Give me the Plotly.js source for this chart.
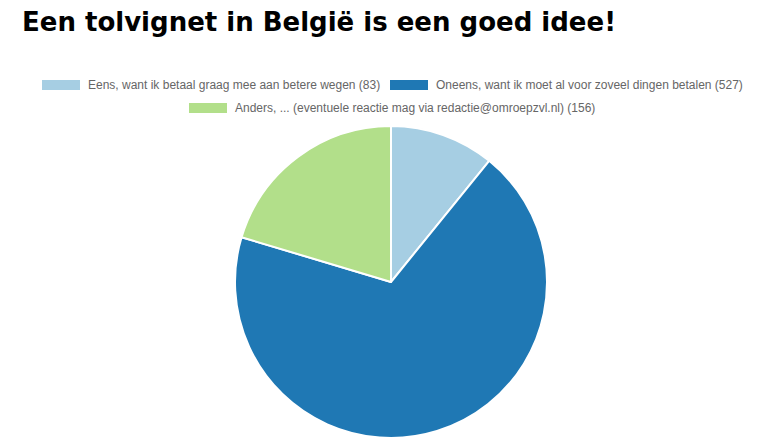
<!DOCTYPE html>
<html><head><meta charset="utf-8">
<script src="https://cdn.plot.ly/plotly-3.0.1.min.js"></script>
<style>html,body{margin:0;padding:0;background:#fff}#chart{width:782px;height:439px}</style>
</head><body><div id="chart"></div>
<script>
const chartTitle = "Een tolvignet in België is een goed idee!";
const labels = [
  "Eens, want ik betaal graag mee aan betere wegen",
  "Oneens, want ik moet al voor zoveel dingen betalen",
  "Anders, ... (eventuele reactie mag via redactie@omroepzvl.nl)"
];
const values = [83, 527, 156];
const colors = ["#a6cee3", "#1f78b4", "#b2df8a"];

const W = 782, H = 439;
// legend layout (pixels): swatch left x, row center y
const legendPos = [[42, 85], [390, 85], [189, 108]];
const swW = 38, swH = 10;

const shapes = [], annotations = [];
legendPos.forEach((p, i) => {
  shapes.push({type:'rect', xref:'paper', yref:'paper',
    x0:p[0]/W, x1:(p[0]+swW)/W, y0:1-(p[1]+swH/2)/H, y1:1-(p[1]-swH/2)/H,
    fillcolor:colors[i], line:{width:0}});
  annotations.push({xref:'paper', yref:'paper', x:(p[0]+swW+6)/W, y:1-p[1]/H,
    xanchor:'left', yanchor:'middle', showarrow:false,
    text: labels[i] + " (" + values[i] + ")",
    font:{family:'"Liberation Sans", Arial, sans-serif', size:12, color:'#666'}});
});
annotations.push({xref:'paper', yref:'paper', x:20/W, y:1-22/H, xanchor:'left', yanchor:'middle',
  showarrow:false, text:'<b>'+chartTitle+'</b>',
  font:{family:'"DejaVu Sans", sans-serif', size:26, color:'#000'}});

const cx = 391, cy = 282, r = 156;
Plotly.newPlot('chart', [{
  type:'pie', labels:labels, values:values, sort:false, direction:'clockwise', rotation:0,
  marker:{colors:colors, line:{color:'#fff', width:2}},
  textinfo:'none', hoverinfo:'label+value',
  domain:{x:[(cx-r)/W,(cx+r)/W], y:[1-(cy+r)/H, 1-(cy-r)/H]}
}], {
  width:W, height:H, margin:{l:0,r:0,t:0,b:0}, showlegend:false,
  paper_bgcolor:'#fff', shapes:shapes, annotations:annotations
}, {displayModeBar:false, staticPlot:true});
</script></body></html>
